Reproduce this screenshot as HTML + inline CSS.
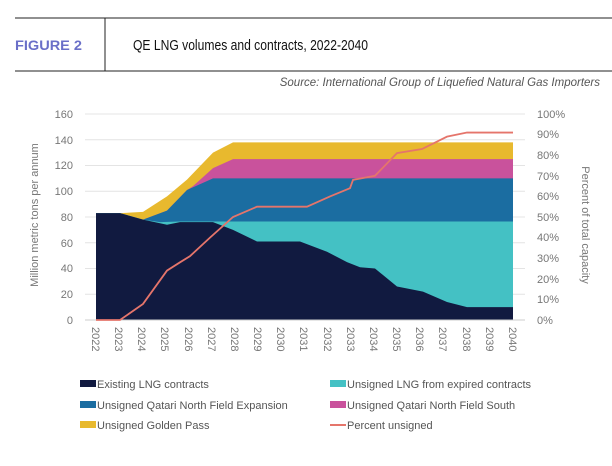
<!DOCTYPE html>
<html><head><meta charset="utf-8"><style>
body{margin:0;background:#fff;width:612px;height:461px;overflow:hidden;font-family:"Liberation Sans",sans-serif}
</style></head><body>
<svg width="612" height="461" xmlns="http://www.w3.org/2000/svg" font-family="Liberation Sans, sans-serif">
<line x1="15" y1="18" x2="612" y2="18" stroke="#222" stroke-width="1"/>
<line x1="15" y1="71" x2="612" y2="71" stroke="#222" stroke-width="1"/>
<line x1="105" y1="18" x2="105" y2="71" stroke="#222" stroke-width="1"/>
<text x="15" y="50" font-size="14" font-weight="bold" fill="#6a6fc8" textLength="67" lengthAdjust="spacingAndGlyphs">FIGURE 2</text>
<text x="133" y="50" font-size="15" fill="#111" textLength="235" lengthAdjust="spacingAndGlyphs">QE LNG volumes and contracts, 2022-2040</text>
<text x="600" y="86" font-size="11.5" font-style="italic" fill="#555" text-anchor="end">Source: International Group of Liquefied Natural Gas Importers</text>
<g stroke="#e4e4e4" stroke-width="1">
<line x1="85" y1="114" x2="525" y2="114"/><line x1="85" y1="139.8" x2="525" y2="139.8"/><line x1="85" y1="165.5" x2="525" y2="165.5"/><line x1="85" y1="191.3" x2="525" y2="191.3"/><line x1="85" y1="217" x2="525" y2="217"/><line x1="85" y1="242.8" x2="525" y2="242.8"/><line x1="85" y1="268.5" x2="525" y2="268.5"/><line x1="85" y1="294.3" x2="525" y2="294.3"/>
</g>
<g transform="translate(0,320) scale(1,-1.2875)">
<path fill="#e8b92e" d="M96,0 L96,83 L120,83 L143,84 L167,96 L187,109 L213,130 L233,138 L513,138 L513,0Z"/>
<path fill="#c9529c" d="M96,0 L96,83 L120,83 L143,78 L167,85 L187,101 L193,104 L213,118 L233,125 L513,125 L513,0Z"/>
<path fill="#1b6da1" d="M96,0 L96,83 L120,83 L143,78 L167,85 L187,101 L213,110 L513,110 L513,0Z"/>
<path fill="#44c1c4" d="M96,0 L96,83 L120,83 L143,78 L160,76 L180,76.5 L513,76.5 L513,0Z"/>
<path fill="#111a40" d="M96,0 L96,83 L120,83 L143,78 L167,74 L180,76 L213,76 L233,70 L257,61 L300,61 L327,53 L347,45 L360,41 L375,40 L397,26 L423,22 L447,14 L467,10 L513,10 L513,0Z"/>
</g>
<line x1="85" y1="320" x2="525" y2="320" stroke="#ccc"/>
<g transform="translate(0,320) scale(1,-2.06)">
<path fill="none" stroke="#e5756b" stroke-width="1.8" vector-effect="non-scaling-stroke" d="M96,0 L120,0 L143,7.8 L167,24 L180,28 L190,31 L210,40 L233,50 L257,55 L307,55 L330,60 L350,64 L353,68 L375,70 L397,81 L422,83 L447,89 L467,91 L513,91"/>
</g>
<g font-size="11" fill="#777" text-anchor="end">
<text x="73" y="118">160</text><text x="73" y="144">140</text><text x="73" y="169">120</text><text x="73" y="195">100</text><text x="73" y="221">80</text><text x="73" y="247">60</text><text x="73" y="272">40</text><text x="73" y="298">20</text><text x="73" y="324">0</text>
</g>
<g font-size="11" fill="#777">
<text x="537" y="118">100%</text><text x="537" y="138">90%</text><text x="537" y="159">80%</text><text x="537" y="180">70%</text><text x="537" y="200">60%</text><text x="537" y="221">50%</text><text x="537" y="241">40%</text><text x="537" y="262">30%</text><text x="537" y="283">20%</text><text x="537" y="303">10%</text><text x="537" y="324">0%</text>
</g>
<text transform="translate(38,215) rotate(-90)" font-size="11" fill="#777" text-anchor="middle">Million metric tons per annum</text>
<text transform="translate(582,225) rotate(90)" font-size="11" fill="#777" text-anchor="middle">Percent of total capacity</text>
<g font-size="11" fill="#777">
<text transform="translate(92,327) rotate(90)">2022</text><text transform="translate(115,327) rotate(90)">2023</text><text transform="translate(138,327) rotate(90)">2024</text><text transform="translate(161,327) rotate(90)">2025</text><text transform="translate(185,327) rotate(90)">2026</text><text transform="translate(208,327) rotate(90)">2027</text><text transform="translate(231,327) rotate(90)">2028</text><text transform="translate(254,327) rotate(90)">2029</text><text transform="translate(277,327) rotate(90)">2030</text><text transform="translate(300,327) rotate(90)">2031</text><text transform="translate(324,327) rotate(90)">2032</text><text transform="translate(347,327) rotate(90)">2033</text><text transform="translate(370,327) rotate(90)">2034</text><text transform="translate(393,327) rotate(90)">2035</text><text transform="translate(416,327) rotate(90)">2036</text><text transform="translate(439,327) rotate(90)">2037</text><text transform="translate(463,327) rotate(90)">2038</text><text transform="translate(486,327) rotate(90)">2039</text><text transform="translate(509,327) rotate(90)">2040</text>
</g>
<g font-size="11" fill="#555">
<rect x="80" y="380" width="16" height="7" fill="#111a40"/><text x="97" y="388">Existing LNG contracts</text>
<rect x="330" y="380" width="16" height="7" fill="#44c1c4"/><text x="347" y="388">Unsigned LNG from expired contracts</text>
<rect x="80" y="401" width="16" height="7" fill="#1b6da1"/><text x="97" y="409">Unsigned Qatari North Field Expansion</text>
<rect x="330" y="401" width="16" height="7" fill="#c9529c"/><text x="347" y="409">Unsigned Qatari North Field South</text>
<rect x="80" y="421" width="16" height="7" fill="#e8b92e"/><text x="97" y="429">Unsigned Golden Pass</text>
<line x1="330" y1="425" x2="346" y2="425" stroke="#e5756b" stroke-width="2"/><text x="347" y="429">Percent unsigned</text>
</g>
</svg>
</body></html>
